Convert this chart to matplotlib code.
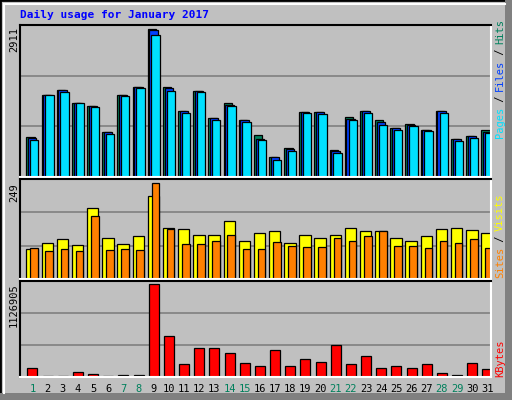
#!/usr/bin/env python3
import matplotlib
matplotlib.use("Agg")
import matplotlib.pyplot as plt
from matplotlib.patches import Rectangle

DAYS = list(range(1, 32))
WEEKENDS = [1, 7, 8, 14, 15, 21, 22, 28, 29]

HITS = [798, 1627, 1726, 1469, 1410, 897, 1627, 1785, 2911, 1785, 1311, 1706, 1173, 1450, 1134,
        837, 403, 581, 1292, 1292, 541, 1193, 1311, 1134, 976, 1055, 936, 1311, 758, 818, 936]
FILES = [778, 1627, 1718, 1469, 1396, 883, 1614, 1785, 2891, 1758, 1298, 1698, 1159, 1430, 1134,
         758, 389, 547, 1292, 1292, 508, 1140, 1298, 1094, 962, 1035, 936, 1298, 745, 804, 883]
PAGES = [739, 1608, 1667, 1450, 1371, 857, 1588, 1746, 2793, 1706, 1272, 1667, 1134, 1410, 1094,
         739, 344, 521, 1272, 1252, 482, 1134, 1272, 1035, 936, 1015, 916, 1272, 719, 778, 877]
VISITS = [79, 95, 103, 89, 184, 106, 92, 111, 216, 133, 130, 116, 114, 152, 100,
          119, 124, 95, 114, 108, 114, 133, 124, 124, 108, 100, 111, 130, 133, 127, 119]
SITES = [81, 73, 78, 73, 165, 76, 78, 76, 249, 130, 92, 92, 100, 116, 78,
         78, 97, 87, 84, 84, 106, 100, 111, 124, 87, 87, 81, 100, 95, 103, 81]
KBYTES = [115164, 16452, 16452, 65808, 41130, 16452, 28791, 28791, 1126905, 497673, 152181,
          349605, 349605, 287910, 164520, 139842, 324927, 139842, 213876, 176859, 386622,
          152181, 250893, 115164, 139842, 115164, 152181, 53469, 28791, 164520, 102825]

BG = "#C0C0C0"
C_HITS, C_FILES, C_PAGES = "#00805C", "#0040FF", "#00E0FF"
C_VISITS, C_SITES, C_KB = "#FFFF00", "#FF8000", "#FF0000"
MONO = "DejaVu Sans Mono"

W, H = 512, 400
fig = plt.figure(figsize=(W / 100, H / 100), dpi=100, facecolor=BG)


def px_axes(x0, y0, x1, y1):
    # pixel box measured from the top-left corner
    return fig.add_axes([x0 / W, 1 - y1 / H, (x1 - x0) / W, (y1 - y0) / H])


# frame: shadow on right/bottom, white highlight on top/left
fig.patches.append(Rectangle((0, 0), 1, 1, transform=fig.transFigure, fc="none", ec="black", lw=2))
fig.patches.append(Rectangle((505 / W, 0), 7 / W, 1, transform=fig.transFigure, fc="#808080", ec="none"))
fig.patches.append(Rectangle((0, 0), 1, 7 / H, transform=fig.transFigure, fc="#808080", ec="none"))
fig.lines.append(plt.Line2D([4 / W, 505 / W], [1 - 4 / H, 1 - 4 / H], transform=fig.transFigure, color="white", lw=1.5))
fig.lines.append(plt.Line2D([4 / W, 4 / W], [7 / H, 1 - 4 / H], transform=fig.transFigure, color="white", lw=1.5))

XL = (0.2, 31.22)


def style(ax, top):
    ax.set_facecolor(BG)
    ax.set_xlim(*XL)
    ax.set_ylim(0, top)
    ax.set_xticks([])
    ax.set_yticks([top / 3, 2 * top / 3])
    ax.tick_params(left=False, labelleft=False)
    ax.grid(axis="y", color="#808080", lw=1.2)
    ax.set_axisbelow(True)
    for s in ax.spines.values():
        s.set_linewidth(1.5)
    ax.spines["right"].set_color("white")
    ax.spines["bottom"].set_color("white")


ax1 = px_axes(20.3, 25, 490.7, 177)
style(ax1, 2911 * 1.03)
kw = dict(width=0.55, align="edge", edgecolor="black", linewidth=0.9)
ax1.bar([d - 0.4 for d in DAYS], HITS, color=C_HITS, **kw)
ax1.bar([d - 0.29 for d in DAYS], FILES, color=C_FILES, **kw)
ax1.bar([d - 0.15 for d in DAYS], PAGES, color=C_PAGES, **kw)

ax2 = px_axes(20.3, 179, 490.7, 279)
style(ax2, 249 * 1.047)
ax2.bar([d - 0.4 for d in DAYS], VISITS, width=0.75, align="edge", color=C_VISITS, edgecolor="black", lw=0.9)
ax2.bar([d - 0.14 for d in DAYS], SITES, width=0.5, align="edge", color=C_SITES, edgecolor="black", lw=0.9)

ax3 = px_axes(20.3, 281, 490.7, 377)
style(ax3, 1126905 * 1.037)
ax3.bar([d - 0.33 for d in DAYS], KBYTES, width=0.66, align="edge", color=C_KB, edgecolor="black", lw=0.9)
ax3.set_xticks(DAYS)
ax3.set_xticklabels([str(d) for d in DAYS], fontfamily=MONO, fontsize=7.5)
ax3.tick_params(axis="x", length=0, pad=5)
for lab, d in zip(ax3.get_xticklabels(), DAYS):
    lab.set_color("#00805C" if d in WEEKENDS else "black")

# title and max labels
fig.text(20 / W, 1 - 15 / H, "Daily usage for January 2017", color="#0000FF",
         fontfamily=MONO, fontweight="bold", fontsize=8, va="center", ha="left")
for txt, ytop in (("2911", 27), ("249", 183), ("1126905", 283)):
    fig.text(14 / W, 1 - ytop / H, txt, rotation=90, fontfamily=MONO, fontsize=7.5,
             ha="center", va="top")

# right side legends, stacked bottom-to-top
def side(parts, y_bottom):
    y = y_bottom
    for txt, col in parts:
        t = fig.text(500 / W, 1 - y / H, txt, rotation=90, color=col, fontfamily=MONO,
                     fontsize=7.5, ha="center", va="bottom")
        y -= len(txt) * 5.9

side([("Pages", C_PAGES), (" / ", "black"), ("Files", C_FILES), (" / ", "black"), ("Hits", C_HITS)], 138)
side([("Sites", C_SITES), (" / ", "black"), ("Visits", C_VISITS)], 278)
side([("KBytes", C_KB)], 377)

fig.savefig("out.png", dpi=100, facecolor=BG)
